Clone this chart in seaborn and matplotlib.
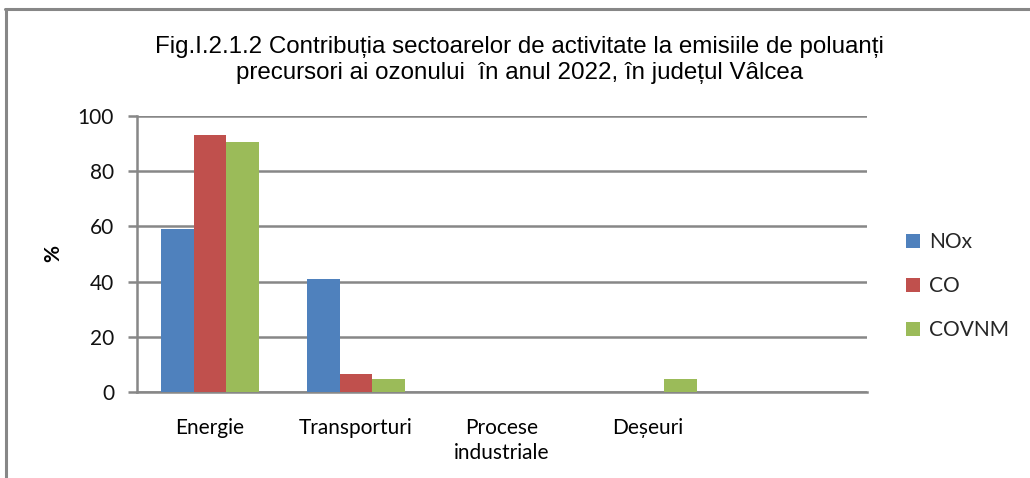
import matplotlib
matplotlib.use("Agg")
import matplotlib.pyplot as plt
import seaborn as sns
import pandas as pd
from matplotlib.lines import Line2D

categories = ["Energie", "Transporturi", "Procese\nindustriale", "Deșeuri"]
series = ["NOx", "CO", "COVNM"]
nox = [59.2, 40.8, 0.0, 0.0]
co = [93.1, 6.5, 0.0, 0.0]
covnm = [90.5, 4.7, 0.0, 4.7]
colors = ["#4F81BD", "#C0504D", "#9BBB59"]
yticks = [0, 20, 40, 60, 80, 100]
title = ("Fig.I.2.1.2 Contribuția sectoarelor de activitate la emisiile de poluanți\n"
         "precursori ai ozonului  în anul 2022, în județul Vâlcea")

rows = []
for s, vals in zip(series, [nox, co, covnm]):
    for c, v in zip(categories, vals):
        rows.append({"cat": c, "serie": s, "val": v})
df = pd.DataFrame(rows)

sns.set_theme(style="white")
plt.rcParams["font.family"] = ["Lato", "DejaVu Sans"]

fig = plt.figure(figsize=(10.30, 4.78), dpi=100)
ax = fig.add_axes([137/1030, (478-392)/478, (867-137)/1030, (392-116)/478])

sns.barplot(data=df, x="cat", y="val", hue="serie", order=categories,
            hue_order=series, palette=colors, width=0.675, gap=0,
            saturation=1, ax=ax, legend=True, linewidth=0, zorder=3)

ax.set_xlim(-0.5, 4.5)
ax.set_ylim(0, 100)
ax.set_yticks(yticks)
ax.yaxis.grid(True, color="#878787", linewidth=1.8, zorder=0)
ax.set_axisbelow(True)
for sp in ["top", "right"]:
    ax.spines[sp].set_visible(False)
for sp in ["left", "bottom"]:
    ax.spines[sp].set_color("#878787")
    ax.spines[sp].set_linewidth(1.8)
ax.tick_params(axis="y", length=6.5, width=1.8, color="#878787", pad=10,
               labelsize=15, labelcolor="#111111", left=True)
ax.tick_params(axis="x", length=0, pad=19, labelsize=15, labelcolor="black")
for lab in ax.get_xticklabels():
    lab.set_linespacing(1.3)
ax.set_xlabel("")
ax.set_ylabel("")
fig.text(53/1030, (478-253)/478, "%", rotation=90, ha="center", va="center",
         fontsize=15, fontweight="bold", color="black")

fig.text(0.504, (478-60)/478, title, ha="center", va="center",
         fontsize=17.4, family=["Liberation Sans", "DejaVu Sans"],
         linespacing=1.18, color="black")

handles, labels = ax.get_legend_handles_labels()
ax.legend(handles, labels, loc="center left", bbox_to_anchor=(896/1030, (478-286)/478),
          bbox_transform=fig.transFigure, frameon=False, fontsize=15,
          handlelength=0.67, handleheight=0.67, handletextpad=0.4, labelspacing=1.15,
          borderpad=0)

fig.add_artist(Line2D([6/1030, 6/1030], [0, (478-9)/478], color="#878787", linewidth=2.2))
fig.add_artist(Line2D([5/1030, 1], [(478-9)/478, (478-9)/478], color="#878787", linewidth=2.2))

fig.savefig("out.png", dpi=100)
